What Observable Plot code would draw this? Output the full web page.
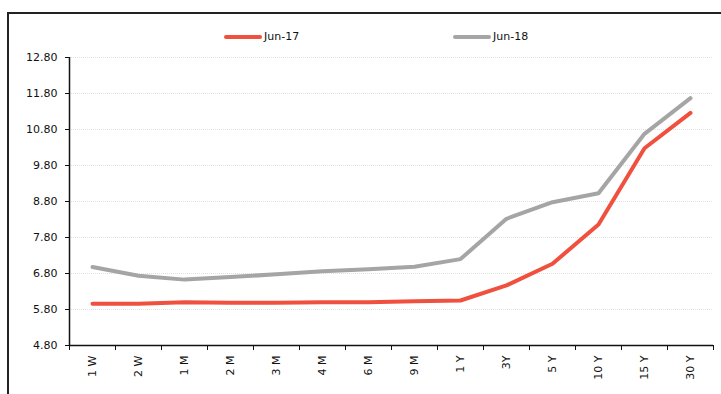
<!DOCTYPE html>
<html>
<head>
<meta charset="utf-8">
<script src="https://cdn.jsdelivr.net/npm/d3@7"></script>
<script src="https://cdn.jsdelivr.net/npm/@observablehq/plot@0.6"></script>
<style>
  body { margin: 0; background: #fff; font-family: "DejaVu Sans", sans-serif; }
  #wrap { position: relative; width: 721px; height: 394px; overflow: hidden; background: #fff; }
  #frame { position: absolute; left: 7px; top: 12px; width: 740px; height: 420px; border-left: 2px solid #222; border-top: 2px solid #222; box-sizing: border-box; }
  #chart { position: absolute; left: 0; top: 0; }
  .leg { position: absolute; top: 30px; font-size: 11px; color: #111; display: flex; align-items: center; }
  .leg span.sw { display: inline-block; width: 38px; height: 4px; border-radius: 2px; margin-right: 2px; }
</style>
</head>
<body>
<div id="wrap">
  <div id="frame"></div>
  <div id="chart"></div>
  <div class="leg" style="left:224px"><span class="sw" style="background:#F0513F"></span>Jun-17</div>
  <div class="leg" style="left:453px"><span class="sw" style="background:#A5A5A5"></span>Jun-18</div>
</div>
<script>
const categories = ["1 W","2 W","1 M","2 M","3 M","4 M","6 M","9 M","1 Y","3Y","5 Y","10 Y","15 Y","30 Y"];
const jun17 = [5.96, 5.96, 6.00, 5.99, 5.99, 6.00, 6.00, 6.03, 6.05, 6.47, 7.07, 8.16, 10.28, 11.26];
const jun18 = [6.98, 6.74, 6.63, 6.70, 6.78, 6.86, 6.92, 6.99, 7.20, 8.32, 8.78, 9.03, 10.68, 11.67];
const yTicks = [4.8, 5.8, 6.8, 7.8, 8.8, 9.8, 10.8, 11.8, 12.8];
const seriesNames = ["Jun-17", "Jun-18"];
const colors = ["#F0513F", "#A5A5A5"];

const data = [];
categories.forEach((c, i) => {
  data.push({series: seriesNames[0], idx: i + 0.5, cat: c, value: jun17[i]});
  data.push({series: seriesNames[1], idx: i + 0.5, cat: c, value: jun18[i]});
});

const chart = Plot.plot({
  width: 721,
  height: 394,
  marginLeft: 69,
  marginRight: 8,
  marginTop: 57,
  marginBottom: 49,
  style: {fontFamily: "DejaVu Sans, sans-serif", fontSize: "11px", color: "#111", background: "transparent"},
  x: {type: "linear", domain: [0, categories.length], axis: null, label: null},
  y: {domain: [4.8, 12.8], axis: null, label: null},
  color: {domain: seriesNames, range: colors},
  marks: [
    Plot.ruleY(yTicks.slice(1), {stroke: "#e2e2e2", strokeDasharray: "1,1", strokeWidth: 1}),
    Plot.axisY(yTicks, {tickSize: 4, tickPadding: 8, tickFormat: d => d.toFixed(2), fontSize: 11, stroke: "#111", label: null}),
    Plot.axisX(d3.range(categories.length + 1), {tickSize: 5, tickFormat: () => "", stroke: "#111", label: null}),
    Plot.axisX(d3.range(categories.length).map(i => i + 0.5), {tickSize: 0, tickPadding: 10, tickRotate: -90, tickFormat: v => categories[Math.floor(v)], fontSize: 11, label: null}),
    Plot.ruleY([4.8], {stroke: "#111", strokeWidth: 1.5}),
    Plot.ruleX([0], {stroke: "#111", strokeWidth: 1.5}),
    Plot.line(data, {x: "idx", y: "value", z: "series", stroke: "series", strokeWidth: 4, strokeLinejoin: "round", strokeLinecap: "round"})
  ]
});
document.getElementById("chart").appendChild(chart);
</script>
</body>
</html>
